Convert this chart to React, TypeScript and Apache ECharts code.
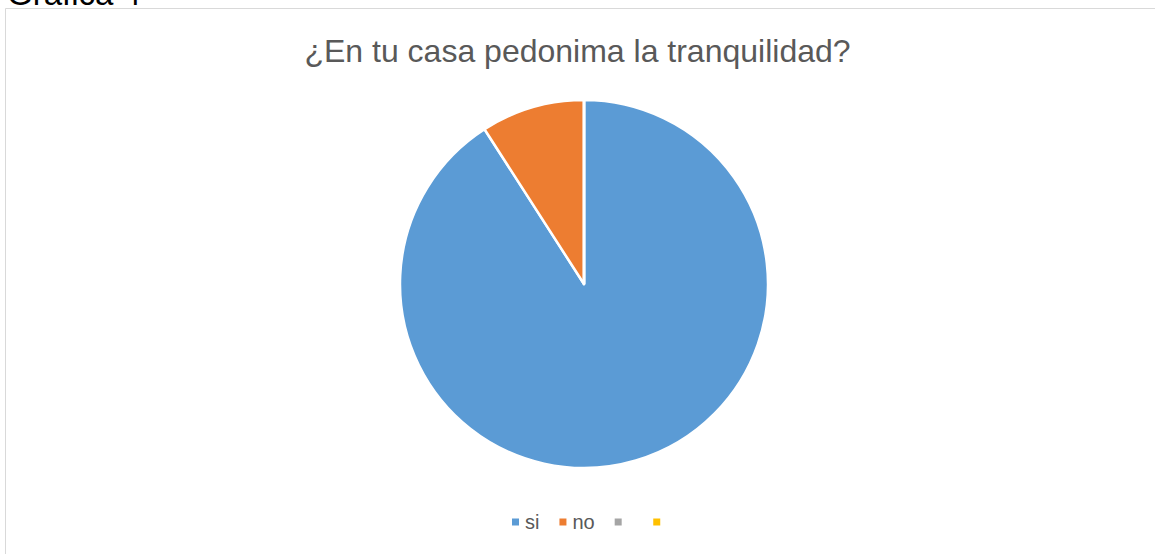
import React, { useEffect, useRef } from "react";
import * as echarts from "echarts";

const categories = ["si", "no", " ", "  "];
const values = [10, 1, 0, 0];
const colors = ["#5B9BD5", "#ED7D31", "#A5A5A5", "#FFC000"];
const titleText = "¿En tu casa pedonima la tranquilidad?";
const captionText = "Gráfica 4";

export default function App() {
  const ref = useRef<HTMLDivElement>(null);
  useEffect(() => {
    document.body.style.margin = "0";
    if (!ref.current) return;
    const chart = echarts.init(ref.current, null, { renderer: "svg" });
    chart.setOption({
      animation: false,
      backgroundColor: "#ffffff",
      title: {
        text: titleText,
        left: "center",
        top: 30,
        textStyle: {
          fontFamily: "Liberation Sans, Arial, sans-serif",
          fontSize: 32,
          fontWeight: "normal",
          color: "#595959",
        },
      },
      legend: {
        data: categories,
        bottom: 17,
        left: 505,
        icon: "rect",
        itemWidth: 9,
        itemHeight: 9,
        itemGap: 18,
        selectedMode: false,
        textStyle: {
          fontFamily: "Liberation Sans, Arial, sans-serif",
          fontSize: 20,
          color: "#595959",
        },
      },
      graphic: [
        {
          type: "rect",
          shape: { x: 5.5, y: 8.5, width: 1160, height: 560 },
          style: { fill: "none", stroke: "#d9d9d9", lineWidth: 1 },
          silent: true,
        },
        {
          type: "text",
          x: 7,
          y: 10,
          style: {
            text: captionText,
            fontFamily: "Liberation Sans, Arial, sans-serif",
            fontSize: 33,
            fill: "#000000",
            verticalAlign: "bottom",
          },
          silent: true,
        },
      ],
      series: [
        {
          type: "pie",
          center: [584, 284],
          radius: 184,
          startAngle: 90,
          clockwise: true,
          label: { show: false },
          labelLine: { show: false },
          emphasis: { disabled: true },
          itemStyle: { borderColor: "#ffffff", borderWidth: 2.5 },
          data: categories.map((name, i) => ({
            name,
            value: values[i],
            itemStyle: { color: colors[i] },
          })),
        },
      ],
    });
    return () => chart.dispose();
  }, []);
  return <div ref={ref} style={{ width: 1155, height: 554 }} />;
}
